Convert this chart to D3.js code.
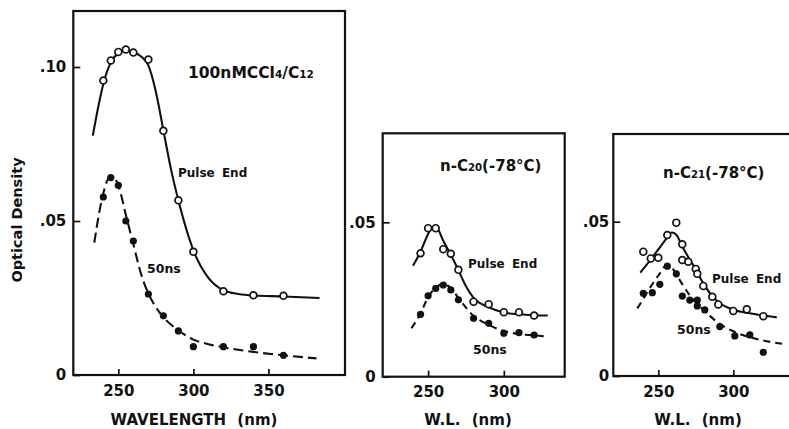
<!DOCTYPE html>
<html>
<head>
<meta charset="utf-8">
<script src="https://cdn.jsdelivr.net/npm/d3@7"></script>
<style>
  html, body { margin: 0; padding: 0; background: #fff; }
  svg { display: block; }
  text { font-family: "DejaVu Sans", "Liberation Sans", Arial, sans-serif; font-weight: bold; fill: #111; }
</style>
</head>
<body>
<svg id="chart" width="789" height="429"></svg>
<script>
// ---------- DATA ----------
// Panel 1: 100nM CCl4 / C12
const p1OpenX   = [240, 245, 250, 255, 260, 270, 280, 290, 300, 320, 340, 360];
const p1OpenY   = [0.0956, 0.1021, 0.1049, 0.1057, 0.1047, 0.1024, 0.0793, 0.0567, 0.0400, 0.0272, 0.0259, 0.0257];
const p1FilledX = [240, 245, 250, 255, 260, 270, 280, 290, 300, 320, 340, 360];
const p1FilledY = [0.0578, 0.0641, 0.0616, 0.0500, 0.0435, 0.0263, 0.0192, 0.0143, 0.0092, 0.0092, 0.0092, 0.0064];
const p1SolidX  = [233, 237, 240, 245, 250, 255, 260, 265, 270, 275, 280, 285, 290, 300, 310, 320, 330, 340, 360, 384];
const p1SolidY  = [0.0777, 0.088, 0.0945, 0.1015, 0.1045, 0.1055, 0.1048, 0.1035, 0.1005, 0.092, 0.0795, 0.067, 0.0567, 0.0405, 0.0315, 0.0275, 0.0263, 0.0258, 0.0255, 0.0250];
const p1DashX   = [234, 237, 240, 244.5, 248, 251, 255, 260, 265, 270, 275, 280, 290, 300, 310, 320, 340, 360, 382];
const p1DashY   = [0.043, 0.052, 0.059, 0.0643, 0.0635, 0.060, 0.052, 0.0425, 0.033, 0.0265, 0.022, 0.0188, 0.0145, 0.0115, 0.0100, 0.0090, 0.0075, 0.0064, 0.0054];

// Panel 2: n-C20 (-78 C)
const p2OpenX   = [245, 250, 255, 260, 265, 270, 280, 290, 300, 310, 320];
const p2OpenY   = [0.0400, 0.0481, 0.0481, 0.0413, 0.0398, 0.0346, 0.0243, 0.0235, 0.0209, 0.0209, 0.0198];
const p2FilledX = [245, 250, 255, 260, 265, 270, 280, 290, 300, 310, 320];
const p2FilledY = [0.0202, 0.0262, 0.0286, 0.0297, 0.0281, 0.0249, 0.0189, 0.0173, 0.0141, 0.0143, 0.0135];
const p2SolidX  = [240, 245, 250, 253, 256, 260, 265, 270, 275, 280, 290, 300, 310, 320, 329];
const p2SolidY  = [0.0359, 0.0405, 0.0462, 0.0485, 0.0480, 0.0440, 0.0395, 0.0345, 0.0293, 0.0255, 0.0225, 0.0208, 0.0202, 0.0199, 0.0198];
const p2DashX   = [239, 245, 250, 255, 260, 265, 270, 280, 290, 300, 310, 320, 329];
const p2DashY   = [0.0157, 0.0205, 0.0258, 0.0288, 0.0300, 0.0287, 0.0255, 0.0197, 0.0168, 0.0148, 0.0138, 0.0134, 0.0130];

// Panel 3: n-C21 (-78 C)
const p3OpenX   = [240, 245, 250, 256, 262, 266, 266, 270, 275, 276, 280, 286, 290, 300, 309, 320];
const p3OpenY   = [0.0403, 0.0381, 0.0383, 0.0457, 0.0497, 0.0427, 0.0376, 0.0370, 0.0347, 0.0331, 0.0292, 0.0257, 0.0232, 0.0211, 0.0216, 0.0194];
const p3FilledX = [240, 246, 251, 256, 262, 266, 271, 276, 276, 281, 291, 301, 311, 320];
const p3FilledY = [0.0268, 0.0270, 0.0297, 0.0356, 0.0331, 0.0259, 0.0246, 0.0246, 0.0227, 0.0214, 0.0160, 0.0130, 0.0133, 0.0077];
const p3SolidX  = [238, 245, 250, 255, 259, 262, 266, 270, 275, 280, 285, 290, 300, 310, 320, 329];
const p3SolidY  = [0.0335, 0.0378, 0.041, 0.0443, 0.0465, 0.0458, 0.042, 0.0385, 0.0345, 0.030, 0.0265, 0.024, 0.0215, 0.0204, 0.0196, 0.0190];
const p3DashX   = [236, 240, 245, 250, 256, 260, 265, 270, 275, 280, 290, 300, 310, 320, 333];
const p3DashY   = [0.0219, 0.025, 0.029, 0.0325, 0.036, 0.0345, 0.0305, 0.0268, 0.0238, 0.0215, 0.0172, 0.0145, 0.0127, 0.0115, 0.0104];

// Ticks and labels
const p1XTicks = [250, 300, 350];
const p23XTicks = [250, 300];
const p1YTicks = [0, 0.05, 0.10];
const p1YLabels = ["0", ".05", ".10"];
const p23YTicks = [0, 0.05];
const p23YLabels = ["0", ".05"];

// ---------- DRAW ----------
const svg = d3.select("#chart");
svg.append("rect").attr("width", 789).attr("height", 429).attr("fill", "#fff");

function zip(xs, ys) { return xs.map((x, i) => ({x: x, y: ys[i]})); }

const panels = [
  { left: 73.3, right: 345, top: 11, bottom: 375, xDom: [220, 401], yAt05: 221.0,
    xTicks: p1XTicks, yTicks: p1YTicks, yLabels: p1YLabels, yPad: 7, dash: "10,5",
    open: zip(p1OpenX, p1OpenY), filled: zip(p1FilledX, p1FilledY),
    solid: zip(p1SolidX, p1SolidY), dashed: zip(p1DashX, p1DashY),
    xTitle: "WAVELENGTH (nm)", xTitleX: 194 },
  { left: 382.7, right: 564.7, top: 133.3, bottom: 376.7, xDom: [220, 340.2], yAt05: 222.3,
    xTicks: p23XTicks, yTicks: p23YTicks, yLabels: p23YLabels, yPad: 7, dash: "7,5",
    open: zip(p2OpenX, p2OpenY), filled: zip(p2FilledX, p2FilledY),
    solid: zip(p2SolidX, p2SolidY), dashed: zip(p2DashX, p2DashY),
    xTitle: "W.L. (nm)", xTitleX: 468 },
  { left: 613.3, right: 796, top: 134, bottom: 376, xDom: [220, 341.8], yAt05: 221.7,
    xTicks: p23XTicks, yTicks: p23YTicks, yLabels: p23YLabels, yPad: 4, dash: "7,5",
    open: zip(p3OpenX, p3OpenY), filled: zip(p3FilledX, p3FilledY),
    solid: zip(p3SolidX, p3SolidY), dashed: zip(p3DashX, p3DashY),
    xTitle: "W.L. (nm)", xTitleX: 698 }
];

panels.forEach(p => {
  const x = d3.scaleLinear().domain(p.xDom).range([p.left, p.right]);
  const pxPer = (p.bottom - p.yAt05) / 0.05;
  const yTop = (p.bottom - p.top) / pxPer;
  const y = d3.scaleLinear().domain([0, yTop]).range([p.bottom, p.top]);

  const g = svg.append("g");

  const xa = g.append("g").attr("transform", `translate(0,${p.bottom})`)
    .call(d3.axisBottom(x).tickValues(p.xTicks).tickFormat(d3.format("d"))
      .tickSize(-6).tickPadding(10));
  xa.select(".domain").remove();
  xa.selectAll(".tick line").attr("stroke", "#111").attr("stroke-width", 1.7);
  xa.selectAll(".tick text").attr("fill", "#111").style("font-size", "15px")
    .attr("font-family", null);

  const ya = g.append("g").attr("transform", `translate(${p.left},0)`)
    .call(d3.axisLeft(y).tickValues(p.yTicks).tickFormat((d, i) => p.yLabels[i])
      .tickSize(-7).tickPadding(p.yPad));
  ya.select(".domain").remove();
  ya.selectAll(".tick line").attr("stroke", "#111").attr("stroke-width", 1.7);
  ya.selectAll(".tick text").attr("fill", "#111").style("font-size", "15px")
    .attr("font-family", null);

  g.append("rect").attr("x", p.left).attr("y", p.top)
    .attr("width", p.right - p.left).attr("height", p.bottom - p.top)
    .attr("fill", "none").attr("stroke", "#111").attr("stroke-width", 2.2);

  const line = d3.line().x(d => x(d.x)).y(d => y(d.y)).curve(d3.curveMonotoneX);

  g.append("path").datum(p.solid).attr("d", line)
    .attr("fill", "none").attr("stroke", "#111").attr("stroke-width", 2.1);
  g.append("path").datum(p.dashed).attr("d", line)
    .attr("fill", "none").attr("stroke", "#111").attr("stroke-width", 2.1)
    .attr("stroke-dasharray", p.dash);

  g.selectAll("circle.f").data(p.filled).enter().append("circle").attr("class", "f")
    .attr("cx", d => x(d.x)).attr("cy", d => y(d.y)).attr("r", 3.6)
    .attr("fill", "#111");
  g.selectAll("circle.o").data(p.open).enter().append("circle").attr("class", "o")
    .attr("cx", d => x(d.x)).attr("cy", d => y(d.y)).attr("r", 3.4)
    .attr("fill", "#fff").attr("stroke", "#111").attr("stroke-width", 1.7);

  svg.append("text").attr("x", p.xTitleX).attr("y", 425).attr("text-anchor", "middle")
    .style("font-size", "15px").style("word-spacing", "6px")
    .text(p.xTitle);
});

svg.append("text").attr("transform", "translate(22,220) rotate(-90)")
  .attr("text-anchor", "middle").style("font-size", "14.5px")
  .text("Optical Density");

function label(xp, yp, size, parts, spacing) {
  const t = svg.append("text").attr("x", xp).attr("y", yp).style("font-size", size + "px")
    .style("letter-spacing", (spacing || 0) + "px");
  parts.forEach(pt => {
    const ts = t.append("tspan").text(pt.t);
    if (pt.sub) ts.style("font-size", (size * 0.68) + "px");
    if (pt.ws) ts.style("word-spacing", pt.ws + "px");
  });
  return t;
}

label(188, 78, 15.5, [{t: "100nMCCl"}, {t: "4", sub: true}, {t: "/C"}, {t: "12", sub: true}], 0);
label(178, 176.5, 12, [{t: "Pulse End", ws: 3}], 0);
label(147, 273, 12.5, [{t: "50ns"}], 0);

label(440, 170.5, 15, [{t: "n-C"}, {t: "20", sub: true}, {t: "(-78°C)"}], 0);
label(468, 268, 12, [{t: "Pulse End", ws: 3}], 0);
label(473, 353.5, 12.5, [{t: "50ns"}], 0);

label(663, 178, 15, [{t: "n-C"}, {t: "21", sub: true}, {t: "(-78°C)"}], 0);
label(712, 283, 12, [{t: "Pulse End", ws: 3}], 0);
label(677, 333.5, 12.5, [{t: "50ns"}], 0);
</script>
</body>
</html>
